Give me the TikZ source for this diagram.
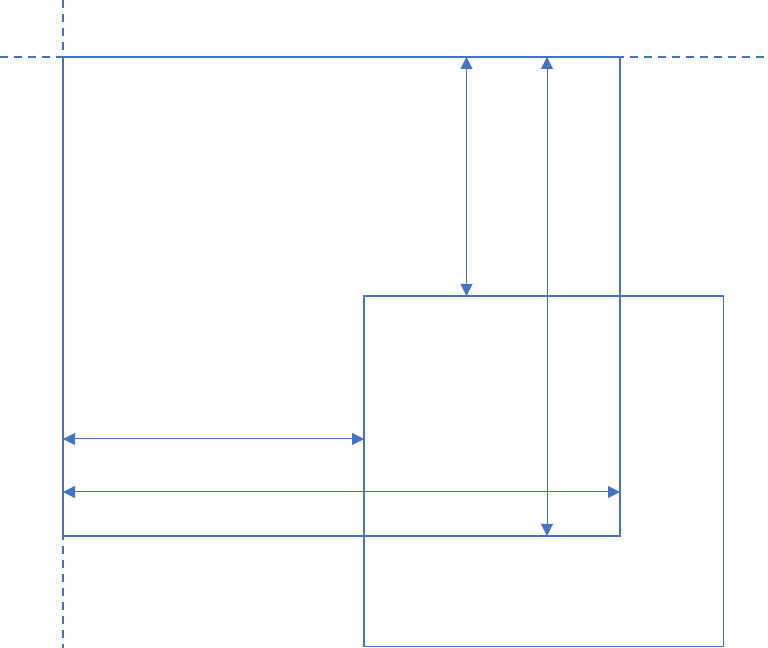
\documentclass[tikz,border=0pt]{standalone}
\usepackage{amsmath}
\usepackage{amssymb}
\usetikzlibrary{arrows.meta}

\definecolor{boxblue}{RGB}{68,114,196}

\begin{document}
\begin{tikzpicture}[x=0.75pt,y=0.75pt,yscale=-1,xscale=1,
  guide/.style={draw=boxblue,line width=1.25pt,dash pattern=on 6pt off 4.5pt},
  frame/.style={draw=boxblue,line width=1.25pt},
  measure/.style={draw=boxblue,line width=0.75pt,{Triangle[length=9pt,width=9pt]}-{Triangle[length=9pt,width=9pt]}}]
\useasboundingbox (0,0) rectangle (768,648);

%Corners of the two rectangles
\coordinate (bigTL) at (63,57);
\coordinate (bigBR) at (620,536);
\coordinate (smallTL) at (364,296);
\coordinate (smallBR) at (723.5,646.5);

%Dashed guides
\coordinate (guideL) at (0,57);
\coordinate (guideR) at (768,57);
\coordinate (guideT) at (63,0);
\coordinate (guideB) at (63,648);
\draw [guide] (guideL) -- (guideR) ;
\draw [guide] (guideT) -- (guideB) ;

%Shape: Rectangle
\draw [frame] (bigTL) rectangle (bigBR) ;
%Shape: Rectangle
\draw [frame] (smallTL) rectangle (smallBR) ;

%Straight Lines
\coordinate (topA) at (466.5,57);
\coordinate (endA) at (466.5,296);
\draw [measure] (topA) -- (endA) ;
%Straight Lines
\coordinate (topB) at (547,57);
\coordinate (endB) at (547,536);
\draw [measure] (topB) -- (endB) ;
%Straight Lines
\coordinate (leftA) at (63,439);
\coordinate (rightA) at (364,439);
\draw [measure] (leftA) -- (rightA) ;
%Straight Lines
\coordinate (leftB) at (63,492);
\coordinate (rightB) at (620,492);
\draw [measure] (leftB) -- (rightB) ;
\end{tikzpicture}
\end{document}
